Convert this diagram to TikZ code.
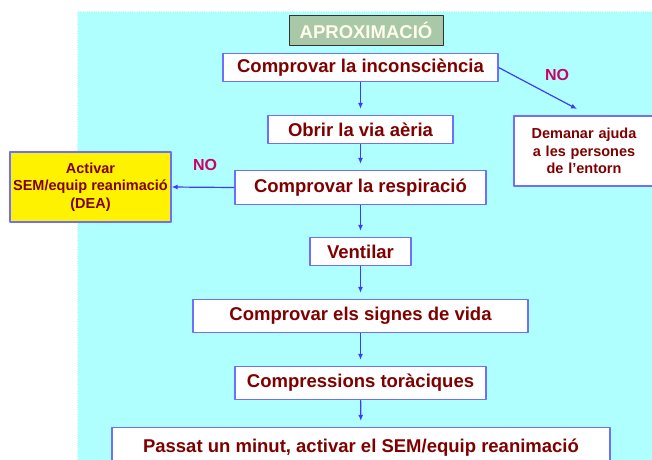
\documentclass[tikz,border=0pt]{standalone}
\usepackage{fontspec}
\setmainfont{Liberation Sans}
\definecolor{fons}{RGB}{176,255,255}
\definecolor{vora}{RGB}{110,110,255}
\definecolor{fletxa}{RGB}{60,60,255}
\definecolor{granat}{RGB}{128,0,0}
\definecolor{rosa}{RGB}{204,0,102}
\definecolor{verdgris}{RGB}{168,200,168}
\usetikzlibrary{arrows.meta}
\tikzset{
	caixa/.style={draw=vora,line width=1.2pt,fill=white,text=granat,font=\fontsize{18.5}{20}\selectfont\bfseries,inner sep=0pt},
	petita/.style={caixa,font=\fontsize{14.5}{17.5}\selectfont\bfseries,align=center},
	fl/.style={draw=fletxa,line width=1.2pt,-{Latex[length=6pt,width=5pt]}},
	etiq/.style={text=rosa,font=\fontsize{16}{18}\selectfont\bfseries}
}
\begin{document}
\begin{tikzpicture}[x=1pt,y=-1pt,line join=round]
	\useasboundingbox (0,0) rectangle (652,459);
	\begin{scope}
		\clip (0,0) rectangle (652,459);
		\fill[fons] (77,11) rectangle (660,470);
		\draw[white,densely dotted,line width=0.8pt] (77,470)--(77,11)--(660,11);
		\node[draw=black!80,line width=1pt,fill=verdgris,text=white!92!yellow,font=\fontsize{18.5}{20}\selectfont\bfseries,minimum width=154pt,minimum height=30pt,inner sep=0pt] (tit) at (366,30) {APROXIMACIÓ};
		\node[caixa,minimum width=275pt,minimum height=28pt] (n1) at (360.5,67.5) {Comprovar la inconsciència};
		\node[caixa,minimum width=185pt,minimum height=28pt] (n2) at (360.5,129.5) {Obrir la via aèria};
		\node[caixa,minimum width=251pt,minimum height=34pt] (n3) at (360.5,187.5) {Comprovar la respiració};
		\node[caixa,minimum width=101pt,minimum height=28pt] (n4) at (360.5,251.5) {Ventilar};
		\node[caixa,minimum width=335pt,minimum height=33pt] (n5) at (360.5,316) {Comprovar els signes de vida};
		\node[caixa,minimum width=251pt,minimum height=33pt] (n6) at (360.5,383) {Compressions toràciques};
		\node[caixa,minimum width=498pt,minimum height=40pt] (n7) at (361,447.5) {Passat un minut, activar el SEM/equip reanimació};
		\node[petita,minimum width=140pt,minimum height=70pt,text width=134pt] (dem) at (584,151) {Demanar ajuda\\a les persones\\de l’entorn};
		\node[petita,fill=yellow,minimum width=161pt,minimum height=70pt] (sem) at (90.5,187) {Activar\\SEM/equip reanimació\\(DEA)};
		\foreach \a/\b in {n1/n2,n2/n3,n3/n4,n4/n5,n5/n6,n6/n7}{
			\draw[fl,shorten >=6pt] (\a) -- (\b);}
		\coordinate (pdem) at (577,109);
		\draw[fl] (n1.east) -- (pdem);
		\draw[fl] (n3.west) -- (sem.east);
		\node[etiq] (no1) at (557,75) {NO};
		\node[etiq] (no2) at (205,165) {NO};
	\end{scope}
\end{tikzpicture}
\end{document}
